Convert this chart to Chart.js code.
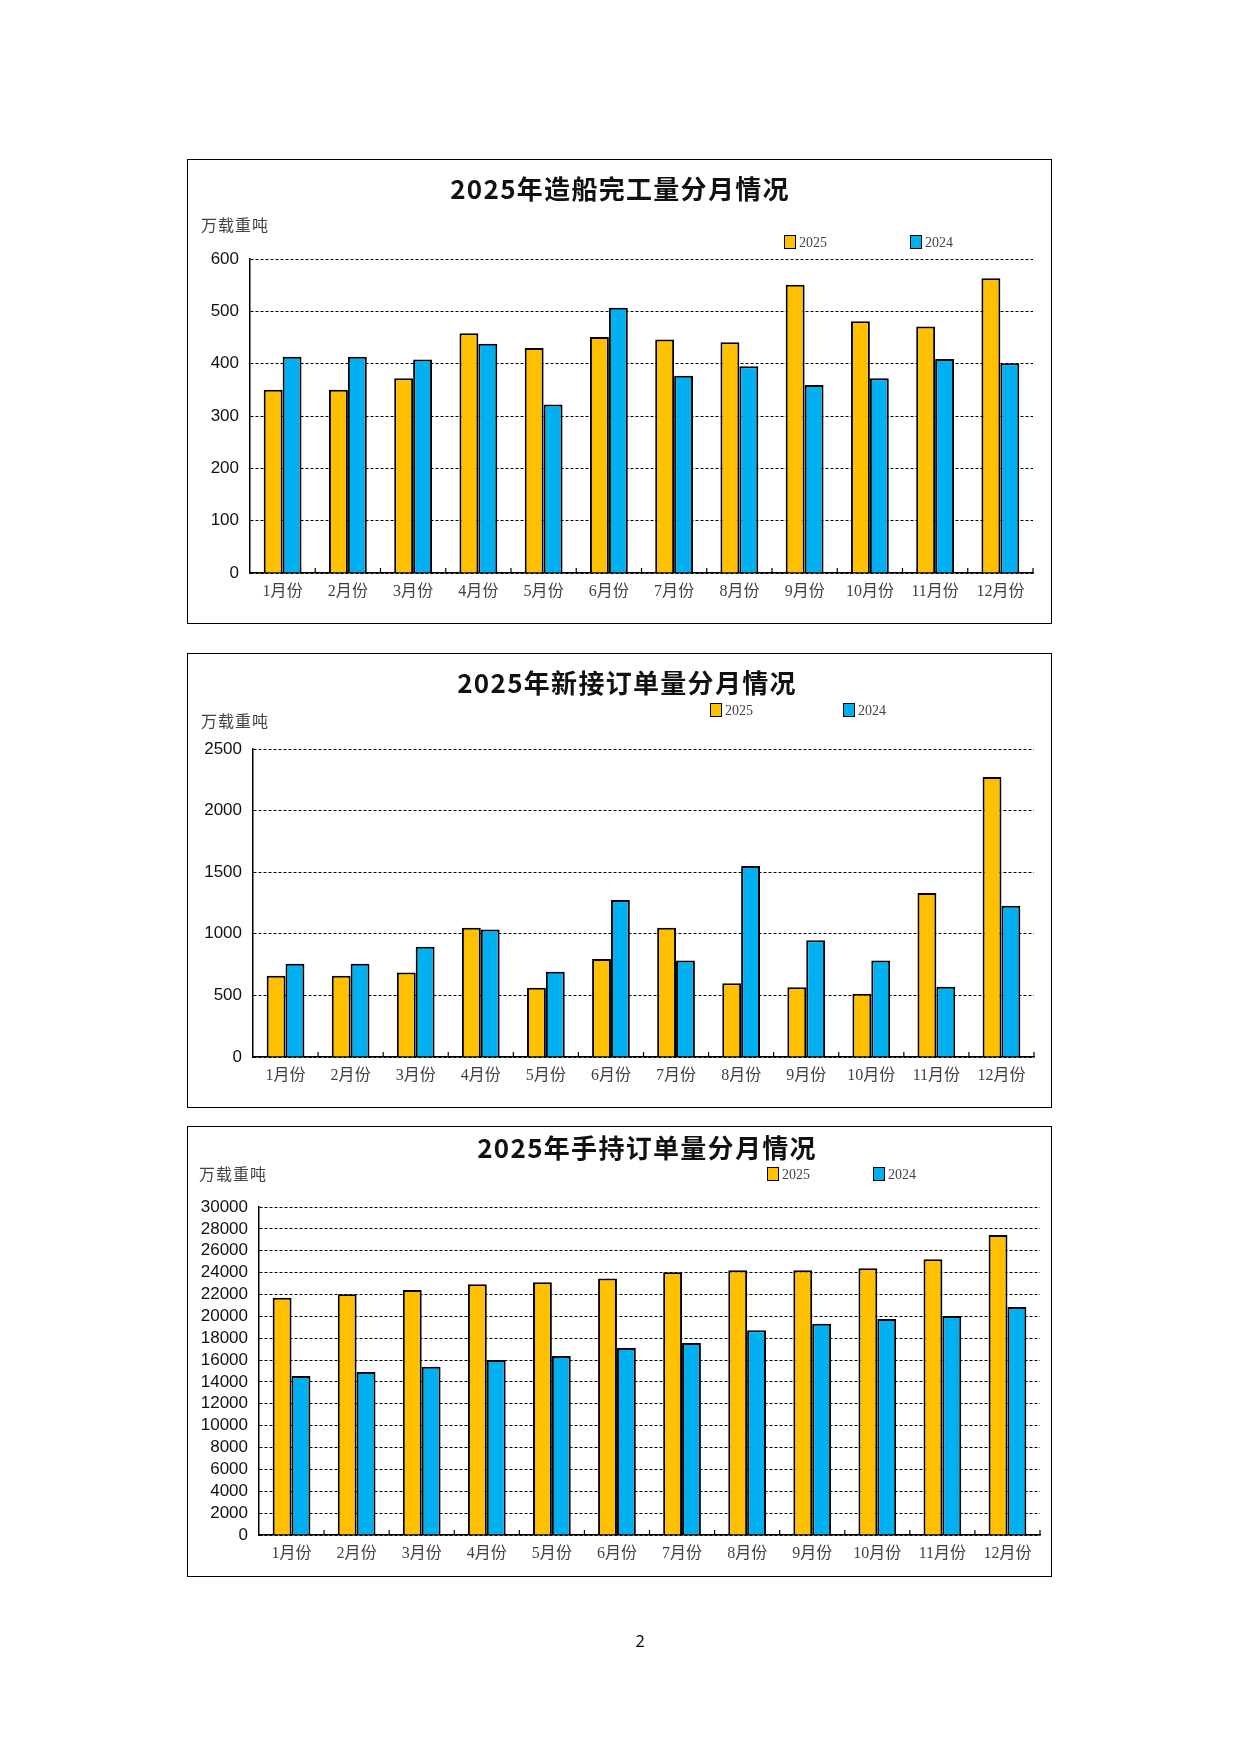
<!DOCTYPE html>
<html>
<head>
<meta charset="utf-8">
<script src="https://cdn.jsdelivr.net/npm/chart.js@4.4.1/dist/chart.umd.min.js"></script>
<style>
  html, body { margin: 0; padding: 0; background: #fff; }
  body { width: 1241px; height: 1754px; position: relative; overflow: hidden; }
  .panel { position: absolute; left: 187px; width: 865px; outline: 1.5px solid #000; outline-offset: -1.5px; }
  .panel canvas { position: absolute; left: 0; top: 0; }
  .title { position: absolute; width: 600px; height: 36px; line-height: 36px; text-align: center;
           font-family: "Noto Sans CJK SC", sans-serif; font-weight: bold; font-size: 26px; color: #111; letter-spacing: 1.3px; z-index: 2; }
  .unit { position: absolute; height: 20px; line-height: 20px; font-family: "Liberation Serif", "Noto Sans CJK SC", serif;
          font-size: 16px; letter-spacing: 1px; color: #444; z-index: 2; }
  .leg { position: absolute; height: 16px; line-height: 16px; font-family: "Liberation Serif", serif; font-size: 14px; color: #444; z-index: 2; }
  .leg i { display: inline-block; width: 10px; height: 12px; border: 1.5px solid #000; vertical-align: -2px; margin-right: 3px; }
  .page { position: absolute; left: 630px; top: 1630px; width: 20px; text-align: center; font-family: "Open Sans", sans-serif; font-size: 16px; color: #000; }
</style>
</head>
<body>

<div class="panel" style="top:159px;height:465px">
  <div class="title" style="left:133px;top:11px">2025年造船完工量分月情况</div>
  <div class="unit" style="left:14px;top:57px">万载重吨</div>
  <div class="leg" style="left:597px;top:76px"><i style="background:#FFC000"></i>2025</div>
  <div class="leg" style="left:723px;top:76px"><i style="background:#00B0F0"></i>2024</div>
  <canvas id="chart1"></canvas>
</div>

<div class="panel" style="top:653px;height:455px">
  <div class="title" style="left:140px;top:11px">2025年新接订单量分月情况</div>
  <div class="unit" style="left:14px;top:59px">万载重吨</div>
  <div class="leg" style="left:523px;top:50px"><i style="background:#FFC000"></i>2025</div>
  <div class="leg" style="left:656px;top:50px"><i style="background:#00B0F0"></i>2024</div>
  <canvas id="chart2"></canvas>
</div>

<div class="panel" style="top:1126px;height:451px">
  <div class="title" style="left:160px;top:3px">2025年手持订单量分月情况</div>
  <div class="unit" style="left:12px;top:39px">万载重吨</div>
  <div class="leg" style="left:580px;top:41px"><i style="background:#FFC000"></i>2025</div>
  <div class="leg" style="left:686px;top:41px"><i style="background:#00B0F0"></i>2024</div>
  <canvas id="chart3"></canvas>
</div>

<div class="page">2</div>

<script>
// months on the x axis
const months = ['1月份', '2月份', '3月份', '4月份', '5月份', '6月份', '7月份', '8月份', '9月份', '10月份', '11月份', '12月份'];
const seriesNames = ['2025', '2024'];

// 造船完工量 (万载重吨)
const completed2025 = [350, 350, 372, 458, 430, 451, 446, 441, 551, 481, 471, 563];
const completed2024 = [413, 413, 408, 438, 322, 507, 377, 395, 359, 372, 409, 401];

// 新接订单量
const orders2025 = [659, 659, 686, 1050, 562, 796, 1050, 599, 567, 513, 1331, 2273];
const orders2024 = [756, 756, 894, 1034, 691, 1274, 783, 1550, 948, 783, 570, 1228];

// 手持订单量
const holding2025 = [21710, 22010, 22410, 22930, 23110, 23450, 24030, 24210, 24210, 24390, 25220, 27440];
const holding2024 = [14550, 14910, 15400, 16010, 16370, 17110, 17560, 18720, 19330, 19760, 20030, 20860];

// y axis ranges
const yMax = [600, 2500, 30000];
const yStep = [100, 500, 2000];

// small tick marks pointing up from the x axis, between months
const innerTicks = {
    id: 'innerTicks',
    afterDatasetsDraw(chart) {
        const xs = chart.scales.x;
        const ctx = chart.ctx;
        const y0 = chart.chartArea.bottom;
        const n = chart.data.labels.length;
        ctx.save();
        ctx.strokeStyle = '#000';
        ctx.lineWidth = 1.2;
        for (let k = 1; k <= n; k++) {
            const px = k < n ? (xs.getPixelForValue(k - 1) + xs.getPixelForValue(k)) / 2 : chart.chartArea.right;
            ctx.beginPath();
            ctx.moveTo(px, y0);
            ctx.lineTo(px, y0 - 5);
            ctx.stroke();
        }
        ctx.restore();
    }
};

function makeChart(id, a, b, max, step, box) {
    const canvas = document.getElementById(id);
    canvas.width = 865;
    canvas.height = box.h;
    canvas.style.width = '865px';
    canvas.style.height = box.h + 'px';
    const xAxisH = 32;

    return new Chart(canvas.getContext('2d'), {
        type: 'bar',
        data: {
            labels: months,
            datasets: [
                { label: seriesNames[0], data: a, backgroundColor: '#FFC000', borderColor: '#000', borderWidth: 2 },
                { label: seriesNames[1], data: b, backgroundColor: '#00B0F0', borderColor: '#000', borderWidth: 2 }
            ]
        },
        options: {
            responsive: false,
            animation: false,
            devicePixelRatio: 1,
            layout: {
                padding: { left: 0, top: box.top, right: 865 - box.right, bottom: box.h - box.bottom - xAxisH }
            },
            datasets: {
                bar: { categoryPercentage: 0.58, barPercentage: 1.0 }
            },
            plugins: {
                legend: { display: false },
                title: { display: false },
                tooltip: { enabled: false }
            },
            scales: {
                x: {
                    afterFit: s => { s.height = xAxisH; },
                    grid: { display: true, drawOnChartArea: false, drawTicks: false },
                    border: { display: true, color: '#000', width: 1.5 },
                    ticks: {
                        padding: 9,
                        color: '#404040',
                        font: { family: '"Liberation Serif", "Noto Sans CJK SC", serif', size: 16 },
                        maxRotation: 0,
                        autoSkip: false
                    }
                },
                y: {
                    min: 0,
                    max: max,
                    afterFit: s => { s.width = box.left; },
                    grid: { color: '#000', lineWidth: 1, drawTicks: false },
                    border: { display: true, color: '#000', width: 1.5, dash: [3, 2] },
                    ticks: {
                        stepSize: step,
                        maxTicksLimit: 20,
                        autoSkip: false,
                        padding: 11,
                        color: '#111',
                        font: { family: '"Liberation Sans", Arial, sans-serif', size: 17 },
                        callback: v => String(v)
                    }
                }
            }
        },
        plugins: [innerTicks]
    });
}

makeChart('chart1', completed2025, completed2024, yMax[0], yStep[0], { h: 465, left: 63, top: 100, right: 846, bottom: 414 });
makeChart('chart2', orders2025, orders2024, yMax[1], yStep[1], { h: 455, left: 66, top: 96, right: 847, bottom: 404 });
makeChart('chart3', holding2025, holding2024, yMax[2], yStep[2], { h: 451, left: 72, top: 81, right: 853, bottom: 409 });
</script>
</body>
</html>
